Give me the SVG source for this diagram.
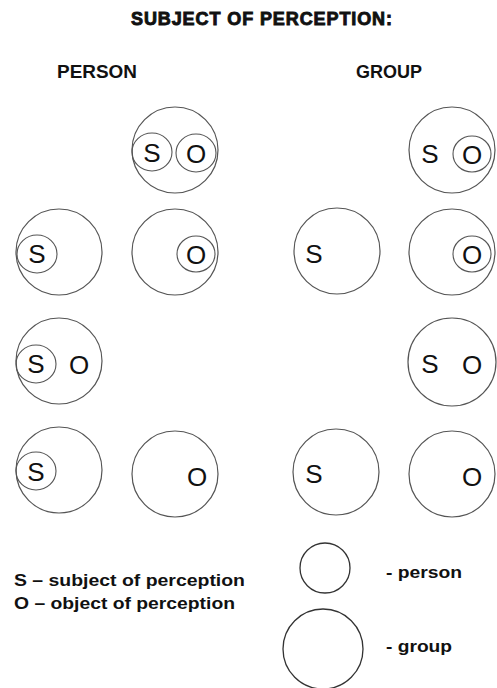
<svg xmlns="http://www.w3.org/2000/svg" width="497" height="688" viewBox="0 0 497 688">
<style>
.c{fill:none;stroke:#555;stroke-width:1.2}
.i{fill:none;stroke:#555;stroke-width:1.1}
.l{fill:none;stroke:#333;stroke-width:1.3}
.t{font-family:"Liberation Sans",Arial,sans-serif;font-size:26px;fill:#111}
.h{font-family:"Liberation Sans",Arial,sans-serif;font-weight:bold;fill:#111}
</style>
<rect width="497" height="688" fill="#fff"/>
<text class="h" x="131" y="25" font-size="18" stroke="#111" stroke-width="0.9" textLength="261" lengthAdjust="spacing">SUBJECT OF PERCEPTION:</text>
<text class="h" x="57" y="78" font-size="18" textLength="80" lengthAdjust="spacingAndGlyphs">PERSON</text>
<text class="h" x="356" y="78" font-size="18" textLength="66" lengthAdjust="spacingAndGlyphs">GROUP</text>

<g id="p1">
<circle class="c" cx="175" cy="150" r="43"/>
<ellipse class="i" cx="152" cy="152" rx="20" ry="19"/>
<ellipse class="i" cx="196" cy="153" rx="20" ry="19"/>
<text class="t" x="152" y="162" text-anchor="middle">S</text>
<text class="t" x="196" y="163" text-anchor="middle">O</text>
</g>
<g id="g1">
<circle class="c" cx="452" cy="150" r="43"/>
<ellipse class="i" cx="472" cy="154" rx="19" ry="18"/>
<text class="t" x="430" y="163" text-anchor="middle">S</text>
<text class="t" x="472" y="164" text-anchor="middle">O</text>
</g>

<g id="p2a">
<circle class="c" cx="59" cy="252" r="43"/>
<ellipse class="i" cx="37" cy="254" rx="20" ry="19"/>
<text class="t" x="37" y="263" text-anchor="middle">S</text>
</g>
<g id="p2b">
<circle class="c" cx="175" cy="252" r="43"/>
<ellipse class="i" cx="196" cy="254" rx="19" ry="18"/>
<text class="t" x="196" y="264" text-anchor="middle">O</text>
</g>
<g id="g2a">
<circle class="c" cx="337" cy="251" r="43"/>
<text class="t" x="314" y="263" text-anchor="middle">S</text>
</g>
<g id="g2b">
<circle class="c" cx="452" cy="252" r="43"/>
<ellipse class="i" cx="472" cy="254" rx="19" ry="18"/>
<text class="t" x="472" y="264" text-anchor="middle">O</text>
</g>

<g id="p3">
<circle class="c" cx="59" cy="361" r="43"/>
<ellipse class="i" cx="36" cy="364" rx="20" ry="19"/>
<text class="t" x="36" y="373" text-anchor="middle">S</text>
<text class="t" x="79" y="374" text-anchor="middle">O</text>
</g>
<g id="g3">
<circle class="c" cx="452" cy="362" r="44"/>
<text class="t" x="430" y="373" text-anchor="middle">S</text>
<text class="t" x="472" y="374" text-anchor="middle">O</text>
</g>

<g id="p4a">
<circle class="c" cx="59" cy="470" r="43"/>
<ellipse class="i" cx="36" cy="471" rx="20" ry="19"/>
<text class="t" x="36" y="481" text-anchor="middle">S</text>
</g>
<g id="p4b">
<circle class="c" cx="175" cy="474" r="43"/>
<text class="t" x="197" y="486" text-anchor="middle">O</text>
</g>
<g id="g4a">
<circle class="c" cx="336" cy="472" r="43"/>
<text class="t" x="314" y="483" text-anchor="middle">S</text>
</g>
<g id="g4b">
<circle class="c" cx="452" cy="474" r="43"/>
<text class="t" x="472" y="486" text-anchor="middle">O</text>
</g>

<g id="legend">
<text class="h" x="14" y="586" font-size="16" textLength="231" lengthAdjust="spacingAndGlyphs">S – subject of perception</text>
<text class="h" x="14" y="609" font-size="16" textLength="221" lengthAdjust="spacingAndGlyphs">O – object of perception</text>
<circle class="l" cx="325" cy="568" r="25"/>
<circle class="l" cx="323" cy="649" r="40"/>
<text class="h" x="386" y="578" font-size="16" textLength="76" lengthAdjust="spacingAndGlyphs">- person</text>
<text class="h" x="386" y="652" font-size="16" textLength="66" lengthAdjust="spacingAndGlyphs">- group</text>
</g>
</svg>
